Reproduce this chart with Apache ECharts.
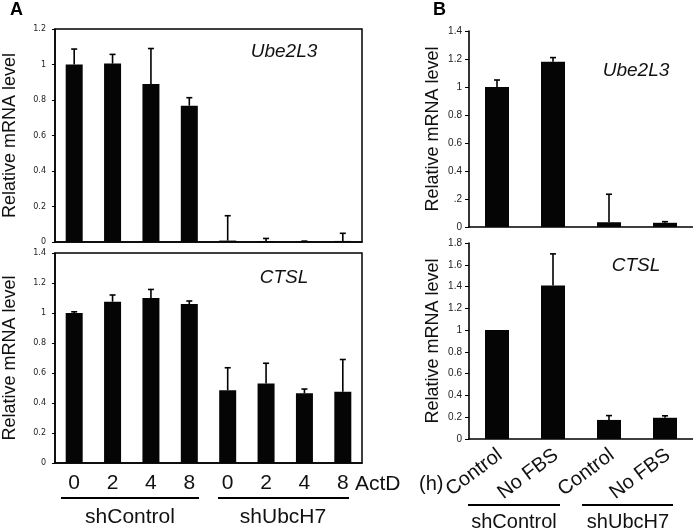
<!DOCTYPE html>
<html><head><meta charset="utf-8">
<script src="https://cdn.jsdelivr.net/npm/echarts@6/dist/echarts.min.js"></script>
<style>html,body{margin:0;padding:0;background:#fff}#c{width:693px;height:532px}</style>
</head><body><div id="c"></div>
<script>
// ---- Data ----
const catsA = ['0','2','4','8','0','2','4','8'];
const ube2l3A = [1.00, 1.005, 0.89, 0.768, 0.008, 0.005, 0.003, 0.006];
const ube2l3AErr = [0.087, 0.052, 0.20, 0.045, 0.14, 0.015, 0.002, 0.043];
const ctslA = [1.00, 1.075, 1.10, 1.06, 0.485, 0.53, 0.465, 0.475];
const ctslAErr = [0.008, 0.045, 0.057, 0.02, 0.15, 0.135, 0.028, 0.215];

const catsB = ['Control','No FBS','Control','No FBS'];
const ube2l3B = [1.00, 1.18, 0.034, 0.03];
const ube2l3BErr = [0.05, 0.03, 0.20, 0.008];
const ctslB = [1.00, 1.41, 0.175, 0.195];
const ctslBErr = [0, 0.29, 0.04, 0.018];

const ticksBTop = ['0','.2','0.4','0.6','0.8','1','1.2','1.4'];
const groups = ['shControl','shUbcH7'];
const yName = 'Relative mRNA level';

const FONT = 'Liberation Sans, Arial, sans-serif';
const NARROW = 'Liberation Sans Narrow, Liberation Sans, Arial, sans-serif';

function errSeries(xi, yi, means, errs, capW) {
  return {
    type: 'custom', xAxisIndex: xi, yAxisIndex: yi, silent: true, z: 5,
    data: means.map((m, i) => [i, m, m + errs[i]]),
    renderItem: function (params, api) {
      const i = api.value(0), m = api.value(1), t = api.value(2);
      if (t - m <= 0) return null;
      const b = api.coord([i, m]), p = api.coord([i, t]);
      const st = {stroke: '#000', lineWidth: 1.6};
      return {type: 'group', children: [
        {type: 'line', shape: {x1: b[0], y1: b[1], x2: p[0], y2: p[1]}, style: st},
        {type: 'line', shape: {x1: p[0] - capW, y1: p[1], x2: p[0] + capW, y2: p[1]}, style: st}
      ]};
    }
  };
}

const yA = (max, gap) => ({
  min: 0, max: max, interval: 0.2,
  name: yName, nameLocation: 'middle', nameGap: gap, nameRotate: 90,
  nameTextStyle: {fontSize: 18, fontFamily: FONT, color: '#111'},
  axisLine: {show: true, lineStyle: {color: '#000', width: 1.5}},
  axisTick: {show: true, inside: false, length: 3, lineStyle: {color: '#000'}},
  axisLabel: {fontSize: 8, fontFamily: 'DejaVu Sans', color: '#222', margin: 9},
  splitLine: {show: false}
});
const yB = (max, fmt, gap) => ({
  min: 0, max: max, interval: 0.2,
  name: yName, nameLocation: 'middle', nameGap: gap, nameRotate: 90,
  nameTextStyle: {fontSize: 18, fontFamily: FONT, color: '#111'},
  axisLine: {show: true, lineStyle: {color: '#000', width: 1.6}},
  axisTick: {show: true, inside: false, length: 4, lineStyle: {color: '#000'}},
  axisLabel: {fontSize: 10, fontFamily: NARROW, color: '#222', margin: 7, formatter: fmt},
  splitLine: {show: false}
});

const option = {
  animation: false,
  grid: [
    {left: 53, top: 29, width: 309, height: 213, show: true, borderColor: '#000', borderWidth: 1.5, backgroundColor: 'transparent'},
    {left: 53, top: 253, width: 309, height: 210, show: true, borderColor: '#000', borderWidth: 1.5, backgroundColor: 'transparent'},
    {left: 469, top: 31, width: 224, height: 196},
    {left: 469, top: 243, width: 224, height: 196}
  ],
  xAxis: [
    {gridIndex: 0, type: 'category', data: catsA, axisLine: {show: true, lineStyle: {color: '#000', width: 1.5}}, axisTick: {show: false}, axisLabel: {show: false}},
    {gridIndex: 1, type: 'category', data: catsA, axisLine: {show: true, lineStyle: {color: '#000', width: 1.5}}, axisTick: {show: false},
      axisLabel: {show: true, fontSize: 21, fontFamily: FONT, color: '#111', margin: 10}},
    {gridIndex: 2, type: 'category', data: catsB, axisLine: {show: true, lineStyle: {color: '#000', width: 1.6}}, axisTick: {show: false}, axisLabel: {show: false}},
    {gridIndex: 3, type: 'category', data: catsB, axisLine: {show: true, lineStyle: {color: '#000', width: 1.6}}, axisTick: {show: false}, axisLabel: {show: false}}
  ],
  yAxis: [
    Object.assign({gridIndex: 0}, yA(1.2, 36)),
    Object.assign({gridIndex: 1}, yA(1.4, 36)),
    Object.assign({gridIndex: 2}, yB(1.4, (v) => ticksBTop[Math.round(v / 0.2)], 27)),
    Object.assign({gridIndex: 3}, yB(1.8, undefined, 27))
  ],
  series: [
    {type: 'bar', xAxisIndex: 0, yAxisIndex: 0, data: ube2l3A, barWidth: 17, itemStyle: {color: '#050505'}},
    errSeries(0, 0, ube2l3A, ube2l3AErr, 3),
    {type: 'bar', xAxisIndex: 1, yAxisIndex: 1, data: ctslA, barWidth: 17, itemStyle: {color: '#050505'}},
    errSeries(1, 1, ctslA, ctslAErr, 3),
    {type: 'bar', xAxisIndex: 2, yAxisIndex: 2, data: ube2l3B, barWidth: 24, itemStyle: {color: '#050505'}},
    errSeries(2, 2, ube2l3B, ube2l3BErr, 3),
    {type: 'bar', xAxisIndex: 3, yAxisIndex: 3, data: ctslB, barWidth: 24, itemStyle: {color: '#050505'}},
    errSeries(3, 3, ctslB, ctslBErr, 3)
  ],
  graphic: [
    {type: 'text', left: 10, top: 1, style: {text: 'A', fontSize: 18, fontWeight: 'bold', fontFamily: FONT, fill: '#000'}},
    {type: 'text', left: 433, top: 1, style: {text: 'B', fontSize: 18, fontWeight: 'bold', fontFamily: FONT, fill: '#000'}},
    {type: 'text', x: 284, y: 52, style: {text: 'Ube2L3', fontSize: 19, fontStyle: 'italic', fontFamily: FONT, fill: '#111', align: 'center', verticalAlign: 'middle'}},
    {type: 'text', x: 284, y: 278, style: {text: 'CTSL', fontSize: 19, fontStyle: 'italic', fontFamily: FONT, fill: '#111', align: 'center', verticalAlign: 'middle'}},
    {type: 'text', x: 636, y: 71, style: {text: 'Ube2L3', fontSize: 19, fontStyle: 'italic', fontFamily: FONT, fill: '#111', align: 'center', verticalAlign: 'middle'}},
    {type: 'text', x: 636, y: 266, style: {text: 'CTSL', fontSize: 19, fontStyle: 'italic', fontFamily: FONT, fill: '#111', align: 'center', verticalAlign: 'middle'}},
    {type: 'text', x: 355, y: 484, style: {text: 'ActD', fontSize: 21, fontFamily: FONT, fill: '#111', align: 'left', verticalAlign: 'middle'}},
    {type: 'text', x: 419, y: 484, style: {text: '(h)', fontSize: 20, fontFamily: FONT, fill: '#111', align: 'left', verticalAlign: 'middle'}},
    {type: 'line', shape: {x1: 61, y1: 498, x2: 199, y2: 498}, style: {stroke: '#000', lineWidth: 2}},
    {type: 'line', shape: {x1: 218, y1: 498, x2: 349, y2: 498}, style: {stroke: '#000', lineWidth: 2}},
    {type: 'text', x: 130, y: 517, style: {text: groups[0], fontSize: 21, fontFamily: FONT, fill: '#111', align: 'center', verticalAlign: 'middle'}},
    {type: 'text', x: 283, y: 517, style: {text: groups[1], fontSize: 21, fontFamily: FONT, fill: '#111', align: 'center', verticalAlign: 'middle'}},
    {type: 'line', shape: {x1: 468, y1: 505, x2: 560, y2: 505}, style: {stroke: '#000', lineWidth: 2}},
    {type: 'line', shape: {x1: 582, y1: 505, x2: 673, y2: 505}, style: {stroke: '#000', lineWidth: 2}},
    {type: 'text', x: 514, y: 522, style: {text: groups[0], fontSize: 20, fontFamily: FONT, fill: '#111', align: 'center', verticalAlign: 'middle'}},
    {type: 'text', x: 628, y: 522, style: {text: groups[1], fontSize: 20, fontFamily: FONT, fill: '#111', align: 'center', verticalAlign: 'middle'}}
  ]
};
const chart = echarts.init(document.getElementById('c'), null, {renderer: 'canvas'});
chart.setOption(option);

// rotated category labels for panel B, anchored at each category's pixel position
const rotLabels = catsB.map((c, i) => {
  const p = chart.convertToPixel({xAxisIndex: 3, yAxisIndex: 3}, [i, 0]);
  return {type: 'text', x: p[0] + 3, y: p[1] + 14, rotation: 37 * Math.PI / 180,
    style: {text: c, fontSize: 20, fontFamily: FONT, fill: '#111', align: 'right', verticalAlign: 'middle'}};
});
chart.setOption({graphic: option.graphic.concat(rotLabels)});
</script></body></html>
